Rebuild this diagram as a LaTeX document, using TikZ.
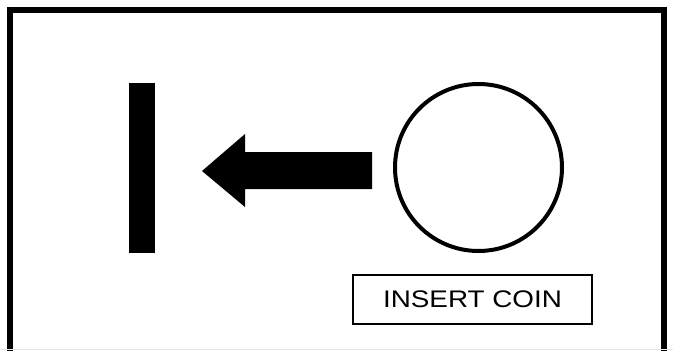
\documentclass[tikz,border=0pt]{standalone}
\usepackage{fontspec}
\setmainfont{Liberation Sans}
\usetikzlibrary{calc}
\definecolor{edgegray}{RGB}{230,230,230}

\begin{document}
\begin{tikzpicture}[x=1pt, y=-1pt]

\useasboundingbox (0,0) rectangle (673,351);

\coordinate (tl) at (10,10);
\coordinate (tr) at (664,10);
\coordinate (bl) at (10,351);
\coordinate (br) at (664,351);
\coordinate (tip) at (202,171);

% frame
\draw[line width=6] (bl) -- (tl) -- (tr) -- (br);
\draw[line width=1, color=edgegray] (0,349) -- (673,349);

% slot bar
\fill (129,83) rectangle (155,253);

% arrow
\fill (tip) -- (245,134) -- (245,152) -- (372,152) -- (372,189) -- (245,189) -- (245,207) -- cycle;

\node[draw, circle, line width=4, minimum size=167pt, inner sep=0] (coin) at (478.5,167.5) {};

\node[draw, line width=1.2, minimum width=239pt, minimum height=49pt, inner sep=0] (label) at (472.5,299.5) {\scalebox{1.16}[1]{\fontsize{24}{28}\selectfont INSERT COIN}};
\end{tikzpicture}
\end{document}
